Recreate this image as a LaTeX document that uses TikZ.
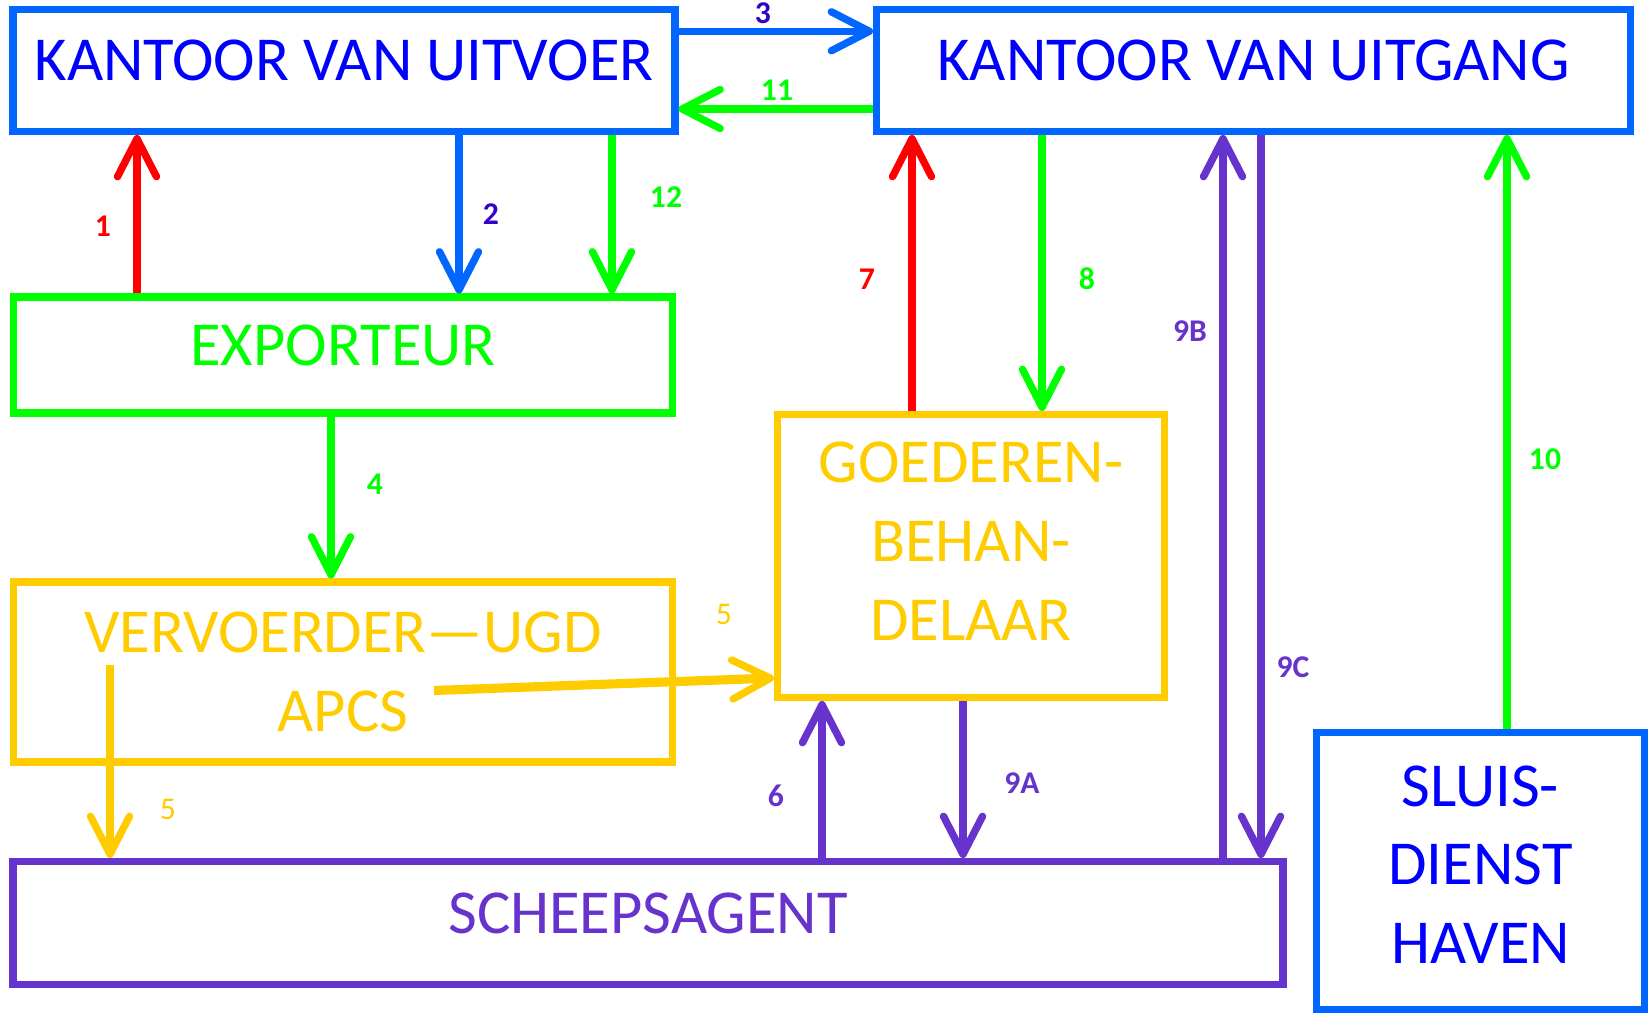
\documentclass[tikz,border=0pt]{standalone}
\usepackage{fontspec}
\setmainfont{Carlito}
\usetikzlibrary{arrows.meta}

\definecolor{kblue}{RGB}{0,102,255}
\definecolor{tblue}{RGB}{0,0,255}
\definecolor{lblue}{RGB}{51,0,204}
\definecolor{kgreen}{RGB}{0,255,0}
\definecolor{kred}{RGB}{255,0,0}
\definecolor{kyellow}{RGB}{255,204,0}
\definecolor{kpurple}{RGB}{102,51,204}

\begin{document}
\begin{tikzpicture}[
  party/.style={draw, rectangle, line width=2pt, inner sep=0pt, align=center,
    font=\fontsize{17.8}{22.4}\selectfont},
  lift/.style={execute at end node={\rule[-#1]{0pt}{0pt}}},
  flow/.style={line width=2.1pt, -{Straight Barb[length=3.8mm, width=3.9mm, line width=2.1pt, round]}},
  nr/.style={font=\fontsize{9}{10}\selectfont\bfseries},
  nrl/.style={font=\fontsize{9}{10}\selectfont}]

\useasboundingbox (0,0) rectangle (16.48,10.13);

% Offices
\node[party, lift=2mm, draw=kblue, text=tblue, minimum width=6.62cm, minimum height=1.22cm] (uitvoer) at (3.44,9.425) {KANTOOR VAN UITVOER};
\node[party, lift=2mm, draw=kblue, text=tblue, minimum width=7.54cm, minimum height=1.22cm] (uitgang) at (12.535,9.425) {KANTOOR VAN UITGANG};

% Parties
\node[party, lift=2mm, draw=kgreen, text=kgreen, minimum width=6.59cm, minimum height=1.16cm] (exp) at (3.43,6.58) {EXPORTEUR};
\node[party, draw=kyellow, text=kyellow, minimum width=6.59cm, minimum height=1.80cm] (verv) at (3.43,3.41) {VERVOERDER---UGD\\APCS};
\node[party, lift=3mm, draw=kyellow, text=kyellow, minimum width=3.87cm, minimum height=2.83cm] (gb) at (9.71,4.57) {GOEDEREN-\\BEHAN-\\DELAAR};
\node[party, lift=2mm, draw=kpurple, text=kpurple, minimum width=12.70cm, minimum height=1.23cm] (agent) at (6.48,0.90) {SCHEEPSAGENT};
\node[party, lift=1.3mm, draw=kblue, text=tblue, minimum width=3.28cm, minimum height=2.77cm] (sluis) at (14.805,1.42) {SLUIS-\\DIENST\\HAVEN};

% Free ends inside the carrier box
\coordinate (apcs) at (4.34,3.225);
\coordinate (vtop) at (1.10,3.48);

% Flows between the offices and the exporter
\draw[flow, kred] (exp.north -| 1.37,0) -- (uitvoer.south -| 1.37,0);
\draw[flow, kblue] (uitvoer.south -| 4.59,0) -- (exp.north -| 4.59,0);
\draw[flow, kblue] (uitvoer.east |- 0,9.817) -- (uitgang.west |- 0,9.817);
\draw[flow, kgreen] (exp.south -| 3.31,0) -- (verv.north -| 3.31,0);
\draw[flow, kyellow, line width=2.6pt] (apcs) -- (gb.west |- 0,3.35);
\draw[flow, kyellow] (vtop) -- (agent.north -| vtop);
\draw[flow, kpurple] (agent.north -| 8.22,0) -- (gb.south -| 8.22,0);
\draw[flow, kred] (gb.north -| 9.12,0) -- (uitgang.south -| 9.12,0);
\draw[flow, kgreen] (uitgang.south -| 10.42,0) -- (gb.north -| 10.42,0);
\draw[flow, kpurple] (gb.south -| 9.63,0) -- (agent.north -| 9.63,0);
\draw[flow, kpurple] (agent.north -| 12.23,0) -- (uitgang.south -| 12.23,0);
\draw[flow, kpurple] (uitgang.south -| 12.61,0) -- (agent.north -| 12.61,0);
\draw[flow, kgreen] (sluis.north -| 15.07,0) -- (uitgang.south -| 15.07,0);
\draw[flow, kgreen] (uitgang.west |- 0,9.04) -- (uitvoer.east |- 0,9.04);
\draw[flow, kgreen] (uitvoer.south -| 6.12,0) -- (exp.north -| 6.12,0);

% Step numbers
\node[nr, text=kred] (n1) at (1.03,7.87) {1};
\node[nr, text=lblue] (n2) at (4.91,7.99) {2};
\node[nr, text=lblue] (n3) at (7.63,10.0) {3};
\node[nr, text=kgreen] (n4) at (3.75,5.29) {4};
\node[nrl, text=kyellow] (n5a) at (7.24,3.99) {5};
\node[nrl, text=kyellow] (n5b) at (1.68,2.04) {5};
\node[nr, text=kpurple] (n6) at (7.76,2.17) {6};
\node[nr, text=kred] (n7) at (8.67,7.34) {7};
\node[nr, text=kgreen] (n8) at (10.87,7.34) {8};
\node[nr, text=kpurple] (n9a) at (10.22,2.30) {9A};
\node[nr, text=kpurple] (n9b) at (11.90,6.82) {9B};
\node[nr, text=kpurple] (n9c) at (12.93,3.46) {9C};
\node[nr, text=kgreen] (n10) at (15.45,5.54) {10};
\node[nr, text=kgreen] (n11) at (7.77,9.23) {11};
\node[nr, text=kgreen] (n12) at (6.66,8.16) {12};

\end{tikzpicture}
\end{document}
